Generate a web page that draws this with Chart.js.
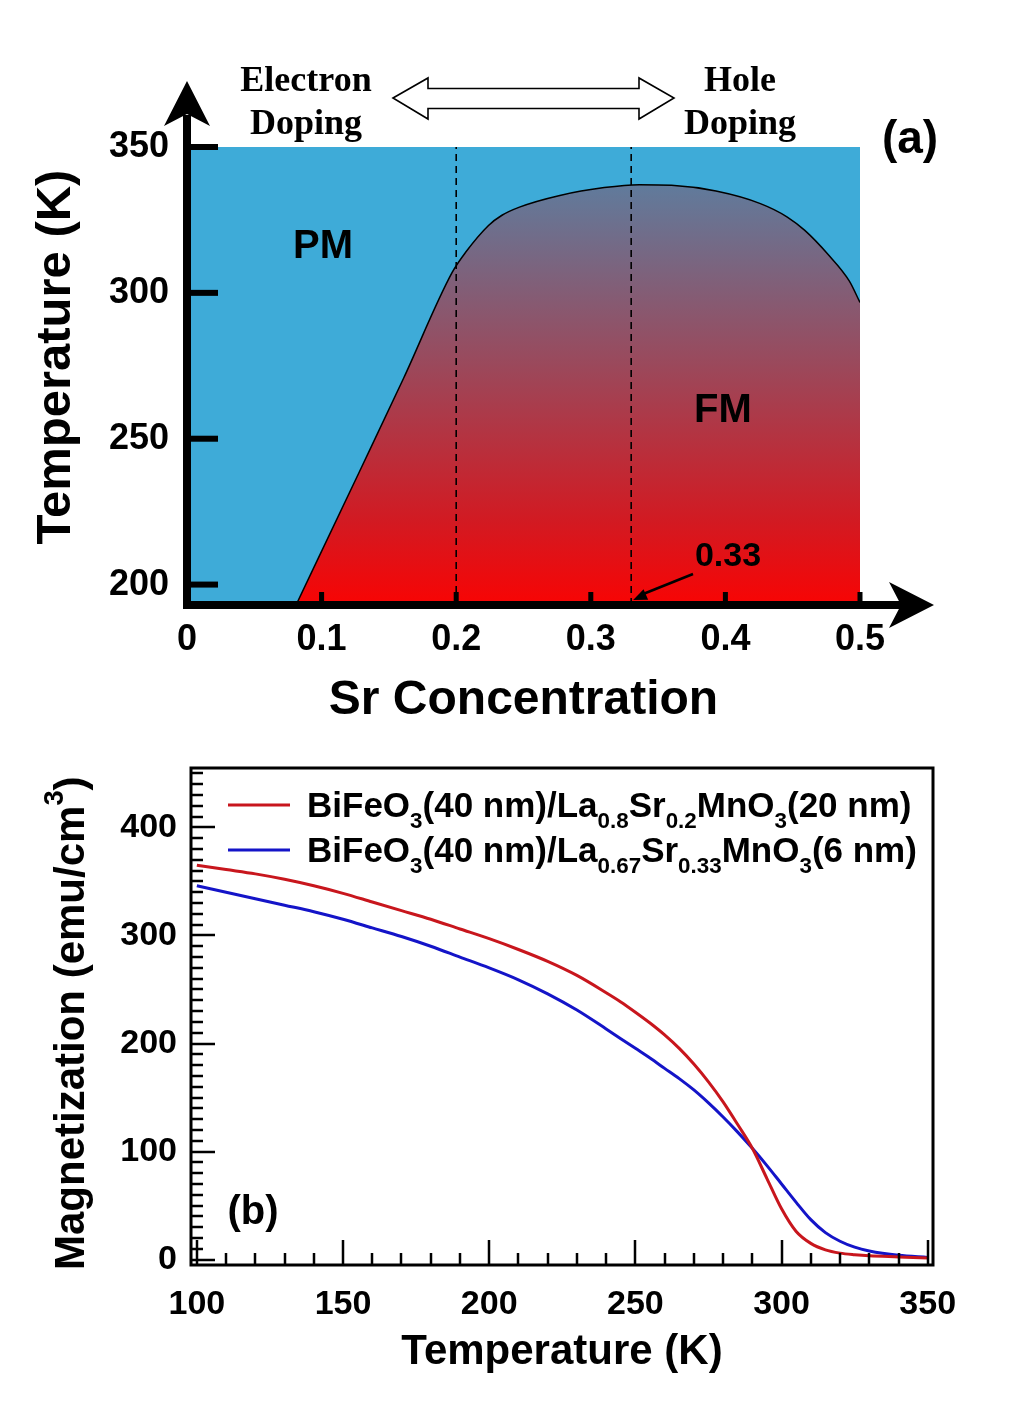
<!DOCTYPE html>
<html>
<head>
<meta charset="utf-8">
<script src="https://cdn.jsdelivr.net/npm/chart.js@4.4.1/dist/chart.umd.min.js"></script>
<style>
  html, body { margin: 0; padding: 0; background: #fff; }
  #wrapA { position: absolute; left: 0; top: 0; width: 1016px; height: 730px; }
  #wrapB { position: absolute; left: 0; top: 730px; width: 1016px; height: 671px; }
</style>
</head>
<body>
<div id="wrapA"><canvas id="phase" width="1016" height="730"></canvas></div>
<div id="wrapB"><canvas id="magn" width="1016" height="671"></canvas></div>
<script>
// (a) phase diagram: FM/PM boundary (Sr concentration vs Tc)
const srConc = [0.081, 0.128, 0.161, 0.197, 0.207, 0.224, 0.234, 0.247, 0.277, 0.310, 0.336, 0.360, 0.393, 0.426, 0.446, 0.459, 0.476, 0.492, 0.500];
const tcBoundary = [193, 238.6, 270.8, 307, 313.9, 323.1, 326.6, 329.4, 333.4, 336.1, 337.1, 336.9, 334.9, 330.6, 326.0, 321.4, 313.3, 304.1, 296.7];
const dopingMarks = [0.2, 0.33];
const concRange = [0, 0.5];
const tempRange = [193, 350];

// (b) magnetization vs temperature
const tempK = [100, 110, 120, 130, 140, 150, 160, 170, 180, 190, 200, 210, 220, 230, 240, 245, 250, 255, 260, 265, 270, 275, 280, 285, 290, 295, 300, 305, 310, 315, 320, 325, 330, 340, 350];
const magLSMO02 = [365, 361, 357, 352, 346, 339, 331, 323, 315, 306, 297, 287, 276, 263, 247, 238.5, 229, 219, 208, 195.5, 181, 164.5, 146, 125, 103, 75, 47, 26, 15, 9, 6, 4.5, 3.5, 2.5, 1.5];
const magLSMO033 = [346, 340, 334, 328, 322, 315, 307, 299, 290, 280, 270, 259, 246, 231, 213.5, 204.5, 195.5, 186.5, 177, 167.5, 157, 145, 132, 118, 103, 87, 70, 53, 37, 25, 17, 11.5, 8, 4, 2];
const sampleLabels = [
  'BiFeO_{3}(40 nm)/La_{0.8}Sr_{0.2}MnO_{3}(20 nm)',
  'BiFeO_{3}(40 nm)/La_{0.67}Sr_{0.33}MnO_{3}(6 nm)'
];

const SANS = "'Liberation Sans', Arial, Helvetica, sans-serif";
const SERIF = "'Liberation Serif', 'Times New Roman', serif";
Chart.defaults.font.family = SANS;
Chart.defaults.color = '#000';

// text with _{sub} and ^{sup} pieces, alphabetic baseline at (x, y)
function drawRich(ctx, str, x, y, size) {
  let cx = x;
  str.split(/([_^]\{[^}]*\})/).filter(Boolean).forEach(p => {
    let txt = p, fs = size, dy = 0;
    if (p[0] === '_') { txt = p.slice(2, -1); fs = size * 0.64; dy = size * 0.3; }
    else if (p[0] === '^') { txt = p.slice(2, -1); fs = size * 0.65; dy = -size * 0.5; }
    ctx.font = 'bold ' + fs + 'px ' + SANS;
    ctx.fillText(txt, cx, y + dy);
    cx += ctx.measureText(txt).width;
  });
}

function stealth(ctx, tx, ty, dx, dy) {
  const L = 45, W = 23, N = 12;
  const px = -dy, py = dx;
  ctx.beginPath();
  ctx.moveTo(tx, ty);
  ctx.lineTo(tx - dx * L + px * W, ty - dy * L + py * W);
  ctx.lineTo(tx - dx * (L - N), ty - dy * (L - N));
  ctx.lineTo(tx - dx * L - px * W, ty - dy * L - py * W);
  ctx.closePath();
  ctx.fill();
}

// ---------- panel (a) ----------
const phaseDecor = {
  id: 'phaseDecor',
  afterDatasetsDraw(chart) {
    const { ctx, chartArea: a, scales: { x, y } } = chart;
    ctx.save();
    ctx.fillStyle = '#000';
    ctx.strokeStyle = '#000';

    // axes with arrow heads
    ctx.lineWidth = 8;
    ctx.beginPath();
    ctx.moveTo(a.left, a.bottom + 4); ctx.lineTo(a.left, 115);
    ctx.moveTo(a.left - 4, a.bottom); ctx.lineTo(903, a.bottom);
    ctx.stroke();
    stealth(ctx, a.left, 81, 0, -1);
    stealth(ctx, 934, a.bottom, 1, 0);

    // tick marks
    y.ticks.forEach(t => {
      const py = y.getPixelForValue(t.value);
      ctx.fillRect(a.left, py - 3, 31, 6);
    });
    x.ticks.forEach(t => {
      if (t.value === 0) return;
      const px = x.getPixelForValue(t.value);
      ctx.fillRect(px - 2.5, a.bottom - 13, 5, 13);
    });

    // hollow double arrow
    ctx.beginPath();
    ctx.moveTo(393, 98);
    ctx.lineTo(428, 78); ctx.lineTo(428, 88.5); ctx.lineTo(639, 88.5); ctx.lineTo(639, 78);
    ctx.lineTo(674, 98);
    ctx.lineTo(639, 119); ctx.lineTo(639, 108.5); ctx.lineTo(428, 108.5); ctx.lineTo(428, 119);
    ctx.closePath();
    ctx.fillStyle = '#fff';
    ctx.fill();
    ctx.lineWidth = 1.6;
    ctx.stroke();

    ctx.fillStyle = '#000';
    ctx.textAlign = 'center';
    ctx.textBaseline = 'alphabetic';
    ctx.font = 'bold 36px ' + SERIF;
    ctx.fillText('Electron', 306, 91);
    ctx.fillText('Doping', 306, 134);
    ctx.fillText('Hole', 740, 91);
    ctx.fillText('Doping', 740, 134);

    ctx.font = 'bold 46px ' + SANS;
    ctx.fillText('(a)', 910, 153);
    ctx.font = 'bold 40px ' + SANS;
    ctx.fillText('PM', 323, 258);
    ctx.fillText('FM', 723, 422);
    ctx.font = 'bold 34px ' + SANS;
    ctx.fillText('0.33', 728, 566);

    // arrow pointing at x = 0.33
    const ex = x.getPixelForValue(dopingMarks[1]) + 2, ey = a.bottom - 5;
    const sx = 693, sy = 574;
    ctx.lineWidth = 2.5;
    ctx.beginPath(); ctx.moveTo(sx, sy); ctx.lineTo(ex + 10, ey - 6); ctx.stroke();
    const ang = Math.atan2(ey - sy, ex - sx);
    ctx.beginPath();
    ctx.moveTo(ex, ey);
    ctx.lineTo(ex - 15 * Math.cos(ang - 0.4), ey - 15 * Math.sin(ang - 0.4));
    ctx.lineTo(ex - 15 * Math.cos(ang + 0.4), ey - 15 * Math.sin(ang + 0.4));
    ctx.closePath(); ctx.fill();

    // y axis title
    ctx.save();
    ctx.translate(70, 357);
    ctx.rotate(-Math.PI / 2);
    ctx.font = 'bold 49px ' + SANS;
    ctx.fillText('Temperature (K)', 0, 0);
    ctx.restore();
    ctx.restore();
  }
};

new Chart(document.getElementById('phase'), {
  type: 'line',
  data: {
    datasets: [
      {
        label: 'FM',
        data: srConc.map((c, i) => ({ x: c, y: tcBoundary[i] })),
        borderColor: '#000',
        borderWidth: 1.5,
        cubicInterpolationMode: 'monotone',
        pointRadius: 0,
        fill: 'start',
        order: 2,
        backgroundColor(ctx) {
          const { chart } = ctx;
          if (!chart.chartArea) return '#c03030';
          const ys = chart.scales.y;
          const g = chart.ctx.createLinearGradient(0, ys.getPixelForValue(337), 0, ys.getPixelForValue(193));
          g.addColorStop(0, '#607b9c');
          g.addColorStop(0.45, '#9e4658');
          g.addColorStop(0.8, '#d21a22');
          g.addColorStop(1, '#f80404');
          return g;
        }
      },
      {
        label: 'PM',
        data: concRange.map(c => ({ x: c, y: tempRange[1] })),
        borderWidth: 0,
        pointRadius: 0,
        fill: 'start',
        backgroundColor: '#3eabd8',
        order: 3
      },
      ...dopingMarks.map(c => ({
        label: 'x = ' + c,
        data: tempRange.map(t => ({ x: c, y: t })),
        borderColor: '#000',
        borderWidth: 1.6,
        borderDash: [7, 5],
        pointRadius: 0,
        fill: false,
        order: 1
      }))
    ]
  },
  options: {
    responsive: false,
    animation: false,
    layout: { padding: { left: 0, top: 147, right: 156, bottom: 0 } },
    plugins: { legend: { display: false }, tooltip: { enabled: false } },
    scales: {
      x: {
        type: 'linear',
        min: concRange[0], max: concRange[1],
        grid: { display: false }, border: { display: false },
        ticks: { stepSize: 0.1, includeBounds: false, padding: 5, font: { size: 36, weight: 'bold' } },
        title: { display: true, text: 'Sr Concentration', font: { size: 48, weight: 'bold' }, padding: { top: 0, bottom: 0 } },
        afterFit(s) { s.height = 125; }
      },
      y: {
        min: tempRange[0], max: tempRange[1],
        grid: { display: false }, border: { display: false },
        ticks: { stepSize: 50, includeBounds: false, padding: 10, font: { size: 36, weight: 'bold' } },
        afterFit(s) { s.width = 187; }
      }
    }
  },
  plugins: [phaseDecor]
});

// ---------- panel (b) ----------
const magDecor = {
  id: 'magDecor',
  afterDraw(chart) {
    const { ctx, chartArea: a, scales: { x, y } } = chart;
    ctx.save();
    ctx.strokeStyle = '#000';
    ctx.fillStyle = '#000';
    ctx.lineWidth = 2.5;
    ctx.beginPath();
    for (let v = 100; v <= 350; v += 10) {
      const px = Math.round(x.getPixelForValue(v));
      ctx.moveTo(px, a.bottom);
      ctx.lineTo(px, a.bottom - (v % 50 === 0 ? 25 : 12));
    }
    for (let v = 0; v <= 450; v += 10) {
      const py = Math.round(y.getPixelForValue(v));
      ctx.moveTo(a.left, py);
      ctx.lineTo(a.left + (v % 100 === 0 ? 24 : 12), py);
    }
    ctx.stroke();
    ctx.lineWidth = 3;
    ctx.strokeRect(a.left, a.top, a.width, a.height);

    // legend
    chart.data.datasets.forEach((ds, i) => {
      const ly = 75 + i * 45;
      ctx.strokeStyle = ds.borderColor;
      ctx.lineWidth = 3;
      ctx.beginPath(); ctx.moveTo(228, ly); ctx.lineTo(290, ly); ctx.stroke();
      ctx.textAlign = 'left';
      ctx.textBaseline = 'alphabetic';
      drawRich(ctx, ds.label, 307, ly + 12, 35);
    });

    ctx.textAlign = 'center';
    ctx.font = 'bold 40px ' + SANS;
    ctx.fillText('(b)', 253, 494);

    // y axis title with superscript
    const title = 'Magnetization (emu/cm^{3})';
    ctx.save();
    ctx.translate(84, 540);
    ctx.rotate(-Math.PI / 2);
    ctx.textAlign = 'left';
    drawRich(ctx, title, 0, 0, 42);
    ctx.restore();
    ctx.restore();
  }
};

new Chart(document.getElementById('magn'), {
  type: 'line',
  data: {
    labels: tempK,
    datasets: [
      { label: sampleLabels[0], data: magLSMO02, borderColor: '#c8161d', borderWidth: 3, pointRadius: 0, cubicInterpolationMode: 'monotone', fill: false },
      { label: sampleLabels[1], data: magLSMO033, borderColor: '#1414c8', borderWidth: 3, pointRadius: 0, cubicInterpolationMode: 'monotone', fill: false }
    ].map(ds => ({ ...ds, data: ds.data.map((m, i) => ({ x: tempK[i], y: m })) }))
  },
  options: {
    responsive: false,
    animation: false,
    layout: { padding: { left: 0, top: 38, right: 83, bottom: 0 } },
    plugins: { legend: { display: false }, tooltip: { enabled: false } },
    scales: {
      x: {
        type: 'linear',
        min: 98, max: 351.8,
        grid: { display: false }, border: { display: false },
        ticks: { stepSize: 50, includeBounds: false, autoSkip: false, padding: 11, font: { size: 34, weight: 'bold' } },
        title: { display: true, text: 'Temperature (K)', font: { size: 42, weight: 'bold' }, padding: { top: 0, bottom: 23 } },
        afterFit(s) { s.height = 136; }
      },
      y: {
        min: -5, max: 455,
        grid: { display: false }, border: { display: false },
        ticks: { stepSize: 100, includeBounds: false, padding: 6, font: { size: 34, weight: 'bold' } },
        afterFit(s) { s.width = 191; }
      }
    }
  },
  plugins: [magDecor]
});
</script>
</body>
</html>
